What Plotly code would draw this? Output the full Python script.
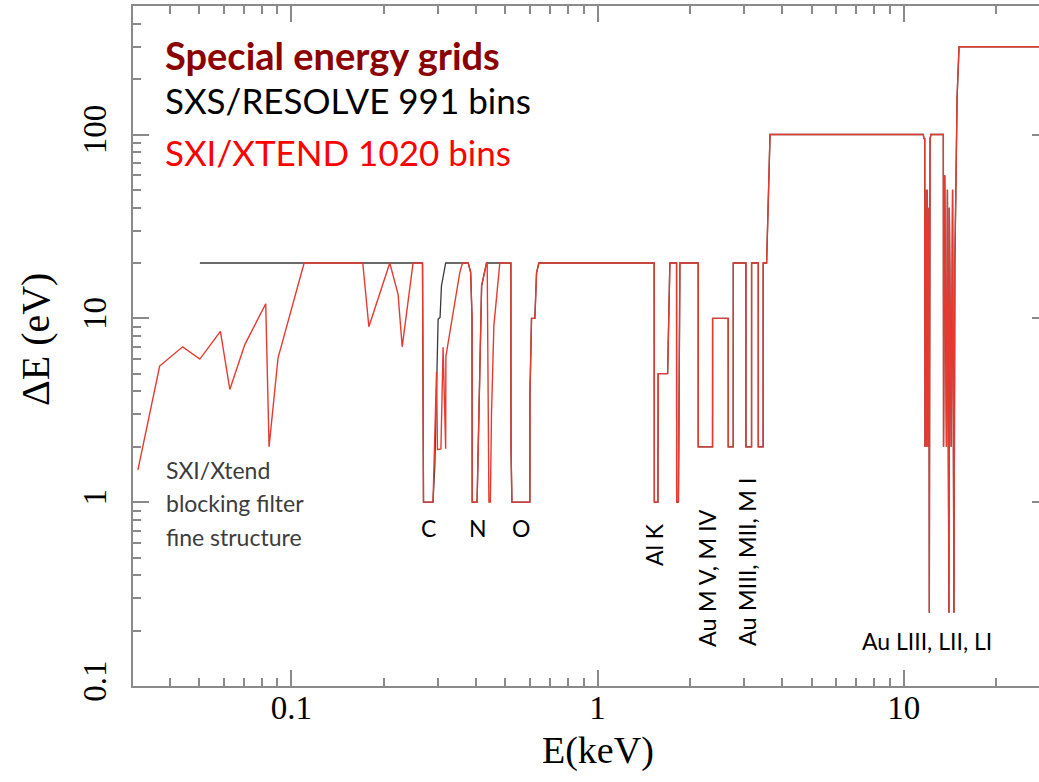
import math
import plotly.graph_objects as go

# ---------------- data ----------------
# SXI/XTEND (red) low-energy part: E in keV, dE in eV
xtend_low_E = [0.0315, 0.0371, 0.0441, 0.0502, 0.0586, 0.0629, 0.0704, 0.0824, 0.0845, 0.0904, 0.110,
               0.171, 0.179, 0.2095, 0.223, 0.230, 0.2496, 0.268, 0.270, 0.290, 0.2978, 0.2999, 0.3078,
               0.3129, 0.319, 0.3195, 0.3548, 0.362,
               0.378, 0.385, 0.389, 0.3895, 0.404, 0.418, 0.4337, 0.436, 0.4416, 0.4464, 0.4504, 0.4584]
xtend_low_dE = [1.5, 5.5, 7.0, 6.0, 8.5, 4.1, 7.2, 12, 2.0, 6.1, 20,
                20, 9.0, 20, 13.5, 7.0, 20, 20, 1, 1, 5.1, 1.93, 1.95,
                6.95, 1.95, 6.2, 17.8, 20,
                20, 17.8, 10, 1, 1, 15, 20, 20, 1, 1, 3.06, 9.1]

# SXS/RESOLVE (black) low-energy part
resolve_low_E = [0.0502, 0.268, 0.270, 0.290, 0.294, 0.3014, 0.3058, 0.309, 0.319,
                 0.378, 0.385, 0.389, 0.3895, 0.404, 0.418, 0.4337]
resolve_low_dE = [20, 20, 1, 1, 1.57, 9.9, 10.1, 15, 20,
                  20, 17.8, 10, 1, 1, 15, 20]

# part common to both grids (E >= 0.48 keV)
shared_E = [0.4794, 0.521, 0.5215, 0.525, 0.601, 0.6015, 0.6085, 0.624, 0.632, 0.643,
            1.531, 1.533, 1.575, 1.578, 1.694, 1.723, 1.789, 1.812, 1.813, 1.837, 1.858,
            2.132, 2.133, 2.375, 2.376, 2.672, 2.673, 2.775, 2.776, 3.053, 3.054, 3.185, 3.186,
            3.35, 3.351, 3.475, 3.476, 3.567, 3.62, 3.66,
            11.59, 11.65, 11.72, 11.74, 11.80, 11.87, 11.95, 12.02, 12.10, 12.13, 12.16, 12.20,
            12.28, 13.48, 13.50, 13.62, 13.72, 13.80, 13.90, 14.00, 14.06, 14.10, 14.30, 14.45,
            14.60, 14.70, 14.83, 14.95, 15.17, 30]
shared_dE = [20, 20, 2, 1, 1, 3.9, 10, 10, 17.7, 20,
             20, 1, 1, 5, 5, 20, 20, 20, 1, 1, 20,
             20, 2, 2, 10, 10, 2, 2, 20, 20, 2, 2, 20,
             20, 2, 2, 20, 20, 50, 100,
             100, 95, 95, 2, 50, 2, 50, 2, 40, 0.25, 5, 95,
             100, 100, 2, 60, 14, 2, 50, 2, 0.25, 40, 2, 50,
             0.25, 20, 63, 160, 300, 300]

x_major = [0.1, 1, 10]
x_major_text = ["0.1", "1", "10"]
x_minor = [0.03, 0.04, 0.05, 0.06, 0.07, 0.08, 0.09,
           0.2, 0.3, 0.4, 0.5, 0.6, 0.7, 0.8, 0.9,
           2, 3, 4, 5, 6, 7, 8, 9, 20]
y_major = [0.1, 1, 10, 100]
y_major_text = ["0.1", "1", "10", "100"]
y_minor = [0.2, 0.3, 0.4, 0.5, 0.6, 0.7, 0.8, 0.9,
           2, 3, 4, 5, 6, 7, 8, 9,
           20, 30, 40, 50, 60, 70, 80, 90,
           200, 300, 400]

# ---------------- figure ----------------
W, H = 1039, 782
L, R, T, B = 133, 1039, 6, 686

xtend_E = xtend_low_E + shared_E
xtend_dE = xtend_low_dE + shared_dE
resolve_E = resolve_low_E + shared_E
resolve_dE = resolve_low_dE + shared_dE

fig = go.Figure()
fig.add_trace(go.Scatter(x=resolve_E, y=resolve_dE, mode="lines",
                         line=dict(color="#3a3a3a", width=1.3), showlegend=False))
fig.add_trace(go.Scatter(x=xtend_E, y=xtend_dE, mode="lines",
                         line=dict(color="#e63a30", width=1.4), showlegend=False))
fig.add_trace(go.Scatter(x=[], y=[], yaxis="y2", showlegend=False))

axcol = "#8a8a8a"
tickfont = dict(family="Liberation Serif", size=33, color="black")

fig.update_layout(
    width=W, height=H,
    margin=dict(l=L, r=W - R, t=T, b=H - B, pad=0),
    paper_bgcolor="white", plot_bgcolor="white",
    showlegend=False,
    xaxis=dict(type="log", range=[-1.5177, 1.4422], showgrid=False, zeroline=False,
               showline=True, linecolor=axcol, linewidth=2, mirror="ticks",
               ticks="inside", ticklen=16, tickwidth=1.5, tickcolor=axcol,
               tickmode="array", tickvals=x_major, ticktext=x_major_text,
               tickfont=tickfont, ticklabelstandoff=-9,
               minor=dict(tickmode="array", tickvals=x_minor, ticks="inside",
                          ticklen=8, tickwidth=1.5, tickcolor=axcol, showgrid=False)),
    yaxis=dict(type="log", range=[-1, math.log10(500)], showgrid=False, zeroline=False,
               showline=True, linecolor=axcol, linewidth=2,
               ticks="inside", ticklen=16, tickwidth=1.5, tickcolor=axcol,
               tickmode="array", tickvals=y_major, ticktext=y_major_text,
               tickfont=tickfont, tickangle=-90, ticklabelstandoff=12,
               minor=dict(tickmode="array", tickvals=y_minor, ticks="inside",
                          ticklen=8, tickwidth=1.5, tickcolor=axcol, showgrid=False)),
    yaxis2=dict(type="log", range=[-1, math.log10(500)], overlaying="y", side="right",
                showgrid=False, zeroline=False, showline=False, showticklabels=False,
                ticks="inside", ticklen=7, tickwidth=1.5, tickcolor=axcol,
                tickmode="array", tickvals=y_major),
)


def P(xp, yp):
    return (xp - L) / (R - L), (B - yp) / (B - T)


def note(text, xp, yp, size, color="black", family="Lato", angle=0, xanchor="center"):
    x, y = P(xp, yp)
    fig.add_annotation(text=text, x=x, y=y, xref="paper", yref="paper",
                       xanchor=xanchor, yanchor="middle", showarrow=False,
                       textangle=angle, font=dict(family=family, size=size, color=color))


note("<b>Special energy grids</b>", 163, 55, 38, "#8b0000", xanchor="left")
note("SXS/RESOLVE 991 bins", 163, 100, 35, "black", xanchor="left")
note("SXI/XTEND 1020 bins", 163, 152, 35, "#ff0000", xanchor="left")

note("SXI/Xtend", 164, 470, 23, "#3c3c3c", xanchor="left")
note("blocking filter", 164, 503, 23, "#3c3c3c", xanchor="left")
note("fine structure", 164, 537, 23, "#3c3c3c", xanchor="left")

note("C", 428, 528, 23)
note("N", 478, 528, 23)
note("O", 521, 528, 23)
note("Al K", 654, 545, 23, angle=-90)
note("Au M V, M IV", 707, 578, 23.5, angle=-90)
note("Au MIII, MII, M I", 747, 562, 23.5, angle=-90)
note("Au LIII, LII, LI", 927, 641, 23)

note("E(keV)", 598, 750, 38, family="Liberation Serif")
note("ΔE (eV)", 35, 340, 40, family="Liberation Serif", angle=-90)

fig.write_html("out.html")
